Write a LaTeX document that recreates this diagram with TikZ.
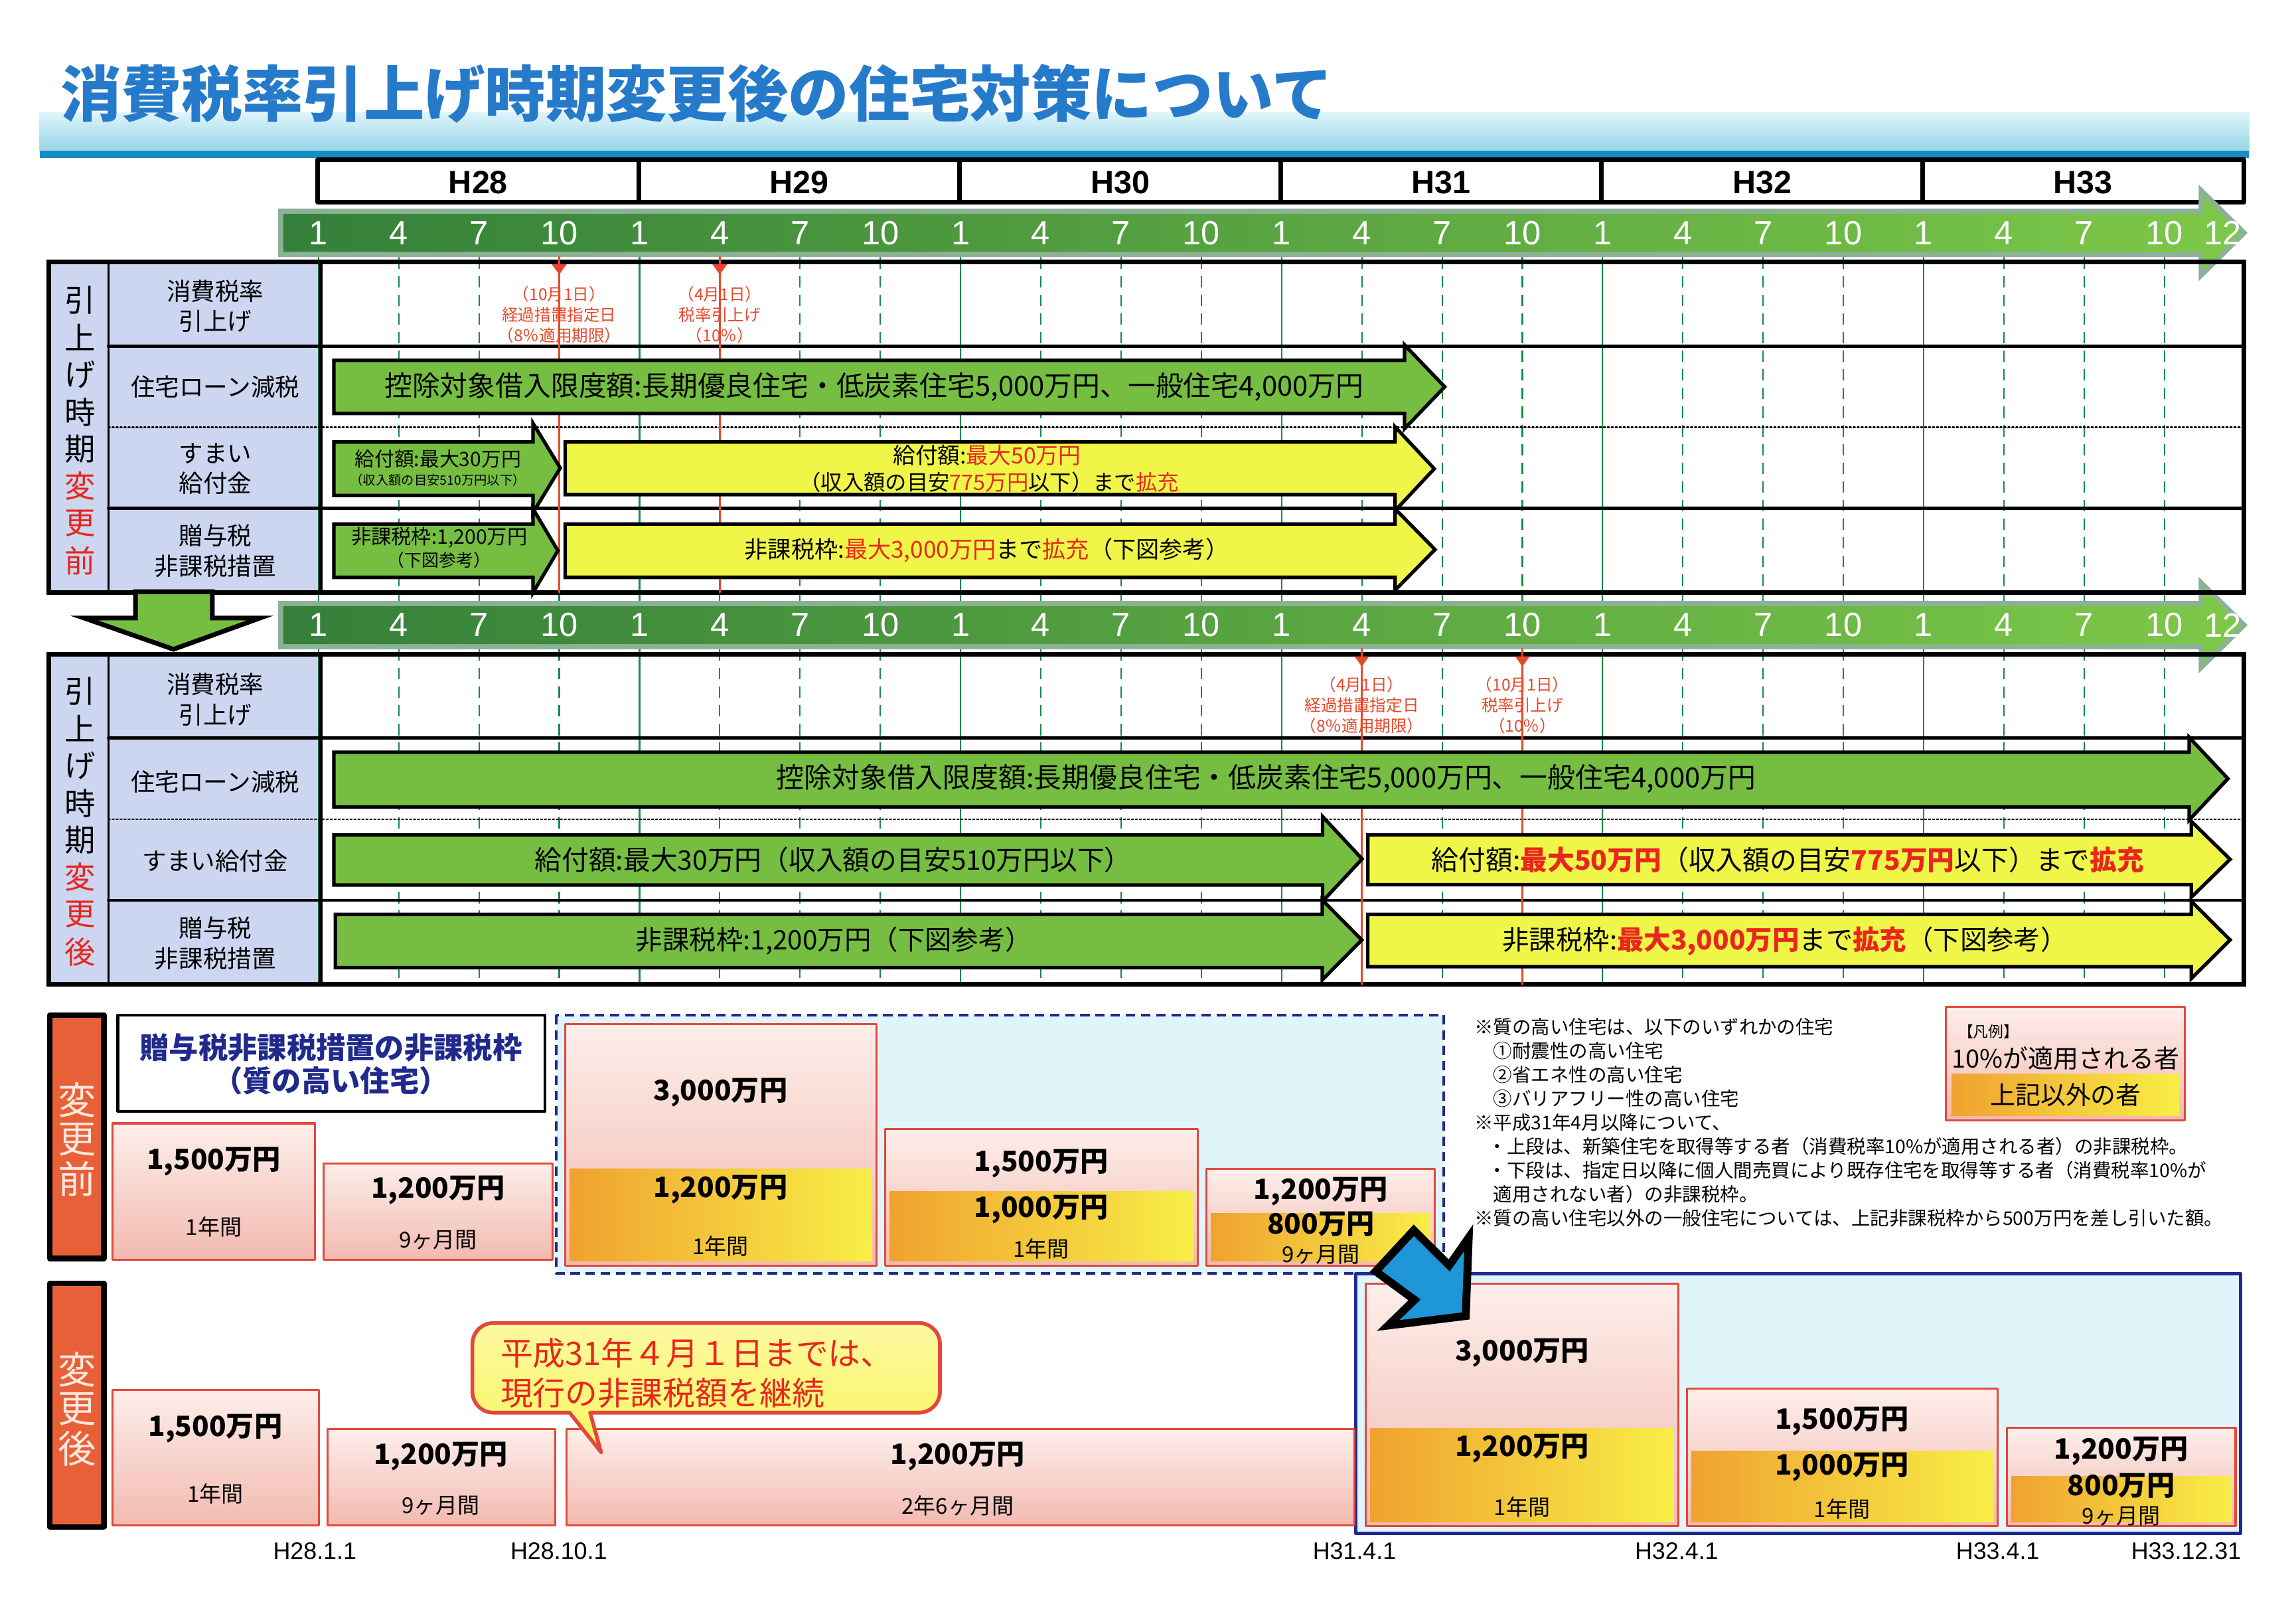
\documentclass[tikz,border=0pt]{standalone}
\usepackage{fontspec}
\setmainfont{Noto Sans CJK JP}
\newfontfamily\lat{Liberation Sans}
\definecolor{ttlblue}{RGB}{38,122,202}
\definecolor{bandtop}{RGB}{222,244,250}
\definecolor{bandbot}{RGB}{150,214,232}
\definecolor{bandline}{RGB}{25,140,195}
\definecolor{barframe}{RGB}{140,178,150}
\definecolor{bardark}{RGB}{52,128,58}
\definecolor{barlight}{RGB}{125,200,72}
\definecolor{gridgreen}{RGB}{20,140,70}
\definecolor{labcell}{RGB}{204,214,240}
\definecolor{arrgreen}{RGB}{118,190,66}
\definecolor{arryellow}{RGB}{240,246,72}
\definecolor{annred}{RGB}{232,72,42}
\definecolor{txtred}{RGB}{232,38,30}
\definecolor{pinktop}{RGB}{253,238,234}
\definecolor{pinkbot}{RGB}{242,186,176}
\definecolor{boxred}{RGB}{226,72,60}
\definecolor{orgL}{RGB}{240,162,48}
\definecolor{orgR}{RGB}{248,238,70}
\definecolor{cyanbg}{RGB}{224,245,250}
\definecolor{navy}{RGB}{32,42,140}
\definecolor{tagred}{RGB}{232,96,56}
\definecolor{tagtxt}{RGB}{255,232,222}
\definecolor{bubfill}{RGB}{250,245,96}
\definecolor{bluearr}{RGB}{30,150,215}
\tikzset{
  grnarr/.style={draw=black,line width=1.5pt,fill=arrgreen,line join=miter},
  yelarr/.style={draw=black,line width=1.5pt,fill=arryellow,line join=miter},
  yearbox/.style={draw=black,line width=2pt,fill=white},
  rowlab/.style={align=center,font=\fontsize{10.4}{13}\selectfont,inner sep=0pt},
  vchar/.style={font=\fontsize{13.2}{14}\selectfont,inner sep=0pt},
  annot/.style={align=center,text=annred,font=\fontsize{7}{8.8}\selectfont,inner sep=0pt},
  monlab/.style={text=white,font=\lat\fontsize{14.4}{16}\selectfont,inner sep=0pt},
  pinkbox/.style={draw=boxred,line width=0.9pt,top color=pinktop,bottom color=pinkbot},
  orgbox/.style={left color=orgL,right color=orgR},
  amt/.style={font=\bfseries\fontsize{12}{14}\selectfont,inner sep=0pt},
  dur/.style={font=\fontsize{9.4}{11}\selectfont,inner sep=0pt},
  datelab/.style={font=\lat\fontsize{10.2}{12}\selectfont,inner sep=0pt},
  note/.style={anchor=west,font=\fontsize{8.1}{10}\selectfont,inner sep=0pt},
  tag/.style={draw=black,line width=2.4pt,fill=tagred},
  tagch/.style={text=tagtxt,font=\fontsize{16.3}{18}\selectfont,inner sep=0pt}
}
\newcommand\redtx[1]{\textcolor{txtred}{#1}}
\newcommand\redbf[1]{\textcolor{txtred}{\bfseries #1}}
% style, x start, head base, tip, body top, body bottom, head top, head bottom
\newcommand\bararrow[8]{\draw[#1] (#2,#5) -- (#3,#5) -- (#3,#7) -- (#4,{(#7+#8)/2}) -- (#3,#8) -- (#3,#6) -- (#2,#6) -- cycle;}
\begin{document}
\begin{tikzpicture}[x=0.2206mm,y=-0.2206mm,line join=round,line cap=round]
\useasboundingbox (0,0) rectangle (1568,1103);
\fill[white] (0,0) rectangle (1568,1103);
% title
\shade[top color=bandtop,bottom color=bandbot] (27,77) rectangle (1536,103);
\fill[bandline] (27,103) rectangle (1536,108);
\node[anchor=west,inner sep=0pt,text=ttlblue,font=\bfseries\fontsize{26}{30}\selectfont] (ttl) at (41,64) {消費税率引上げ時期変更後の住宅対策について};
% years
\foreach \k/\yr in {0/28,1/29,2/30,3/31,4/32,5/33}{
  \draw[yearbox] ({217+219.2*\k},109) rectangle ({217+219.2*(\k+1)},138);
  \node[font=\lat\bfseries\fontsize{13.8}{16}\selectfont,inner sep=0pt] (y\yr) at ({217+219.2*(\k+0.5)},124.5) {H\yr};
}
% table cells
\foreach \T in {179,446.6}{
  \fill[labcell] (33.5,\T) rectangle (219,{\T+225.4});
  \fill[white] (219,\T) rectangle (1532.5,{\T+225.4});
}
% month grid
\foreach \t in {0,3,...,69}{
  \pgfmathtruncatemacro\rem{mod(\t,12)}
  \ifnum\rem=0
    \draw[gridgreen,line width=0.6pt] ({217.5+18.27*\t},175.6) -- ({217.5+18.27*\t},672);
  \else
    \draw[gridgreen,line width=0.6pt,line cap=butt,dash pattern=on 4.9pt off 3.1pt] ({217.5+18.27*\t},175.6) -- ({217.5+18.27*\t},672);
  \fi
}
% month bars
\foreach \c in {159,426.8}{
  \fill[barframe] (190,{\c-16.5}) -- (1501.5,{\c-16.5}) -- (1501.5,{\c-33}) -- (1535,\c) -- (1501.5,{\c+33}) -- (1501.5,{\c+16.5}) -- (190,{\c+16.5}) -- cycle;
  \shade[left color=bardark,right color=barlight] (193.5,{\c-13}) -- (1505,{\c-13}) -- (1505,{\c-25}) -- (1530,\c) -- (1505,{\c+25}) -- (1505,{\c+13}) -- (193.5,{\c+13}) -- cycle;
}
\foreach \c/\b in {159/a,426.8/b}{
  \foreach \k in {0,...,5}{
    \foreach \m in {1,4,7,10}
      \node[monlab] (m\b\k\m) at ({217.5+18.27*(12*\k+\m-1)},\c) {\m};
  }
  \node[monlab] (m\b12) at (1518,\c) {12};
}
% table lines
\foreach \T in {179,446.6}{
  \draw[line width=1.3pt] (74,{\T+57.3}) -- (1532.5,{\T+57.3});
  \draw[line width=0.7pt,densely dotted] (74,{\T+112.7}) -- (1532.5,{\T+112.7});
  \draw[line width=1.3pt] (74,{\T+168}) -- (1532.5,{\T+168});
  \draw[line width=0.9pt] (74,\T) -- (74,{\T+225.4});
  \draw[line width=1.8pt] (219,\T) -- (219,{\T+225.4});
  \draw[line width=2pt,line join=miter] (33.5,\T) rectangle (1532.5,{\T+225.4});
}
% left column
\foreach \T/\s/\w in {205/前/a,472/後/b}{
  \foreach \ch [count=\i from 0] in {引,上,げ,時,期}
    \node[vchar] (v\w\i) at (54.5,{\T+25.4*\i}) {\ch};
  \node[vchar,text=txtred] (v\w5) at (54.5,{\T+25.4*5}) {変};
  \node[vchar,text=txtred] (v\w6) at (54.5,{\T+25.4*6}) {更};
  \node[vchar,text=txtred] (v\w7) at (54.5,{\T+25.4*7}) {\s};
}
% row labels
\node[rowlab] (ta1) at (147,209) {消費税率\\引上げ};
\node[rowlab] (ta2) at (147,264) {住宅ローン減税};
\node[rowlab] (ta3) at (147,320) {すまい\\給付金};
\node[rowlab] (ta4) at (147,376) {贈与税\\非課税措置};
\node[rowlab] (tb1) at (147,477.5) {消費税率\\引上げ};
\node[rowlab] (tb2) at (147,534) {住宅ローン減税};
\node[rowlab] (tb3) at (147,587.6) {すまい給付金};
\node[rowlab] (tb4) at (147,644) {贈与税\\非課税措置};
% red date lines
\foreach \x/\T in {381.9/179,491.6/179,930/446.6,1039.7/446.6}{
  \draw[annred,line width=1pt] (\x,{\T-3.5}) -- (\x,{\T+225.4});
  \fill[annred] ({\x-5},{\T+1.5}) -- ({\x+5},{\T+1.5}) -- (\x,{\T+8.5}) -- cycle;
}
\node[annot] (ra1) at (381.9,215) {（10月1日）\\経過措置指定日\\（8％適用期限）};
\node[annot] (ra2) at (491.6,215) {（4月1日）\\税率引上げ\\（10％）};
\node[annot] (rb1) at (930,481.5) {（4月1日）\\経過措置指定日\\（8％適用期限）};
\node[annot] (rb2) at (1039.7,481.5) {（10月1日）\\税率引上げ\\（10％）};
% arrows, before
\bararrow{grnarr}{228}{959.2}{986.6}{246}{282.3}{235.5}{292.7}
\bararrow{grnarr}{228}{364}{382.6}{301.8}{338.3}{289}{350}
\bararrow{yelarr}{386}{952.7}{979.5}{301.8}{337.7}{291.4}{348.7}
\bararrow{grnarr}{228}{364}{381}{357.8}{394.2}{347.4}{404.6}
\bararrow{yelarr}{386}{952.7}{980}{357.8}{394.2}{347.4}{403}
\node[font=\fontsize{11.9}{14}\selectfont,inner sep=0pt] (ga2) at (597,264) {控除対象借入限度額:長期優良住宅・低炭素住宅5,000万円、一般住宅4,000万円};
\node[font=\fontsize{8.5}{10}\selectfont,inner sep=0pt] (ga3) at (299,313.5) {給付額:最大30万円};
\node[font=\fontsize{5.5}{7}\selectfont,inner sep=0pt] (ga3s) at (299,328) {（収入額の目安510万円以下）};
\node[font=\fontsize{9.6}{11}\selectfont,inner sep=0pt] (ya3) at (674,311) {給付額:\redtx{最大50万円}};
\node[font=\fontsize{9.2}{11}\selectfont,inner sep=0pt] (ya3s) at (675.5,329) {（収入額の目安\redtx{775万円}以下）まで\redtx{拡充}};
\node[font=\fontsize{8.6}{10}\selectfont,inner sep=0pt] (ga4) at (300,366.9) {非課税枠:1,200万円};
\node[font=\fontsize{7.4}{9}\selectfont,inner sep=0pt] (ga4s) at (300,382.5) {（下図参考）};
\node[font=\fontsize{10}{12}\selectfont,inner sep=0pt] (ya4) at (674,375.5) {非課税枠:\redtx{最大3,000万円}まで\redtx{拡充}（下図参考）};
% arrows, after
\bararrow{grnarr}{228}{1495}{1521.5}{513.6}{551}{503.4}{559.9}
\bararrow{grnarr}{228}{903.2}{930.2}{570}{604.3}{557.5}{615.4}
\bararrow{yelarr}{934.2}{1496.5}{1523}{570}{604}{560.8}{612.6}
\bararrow{grnarr}{229}{903}{930}{624.3}{660.7}{614.5}{669}
\bararrow{yelarr}{934}{1496.5}{1523}{624.3}{660}{615.4}{668.1}
\node[font=\fontsize{11.9}{14}\selectfont,inner sep=0pt] (gb2) at (864.7,531.5) {控除対象借入限度額:長期優良住宅・低炭素住宅5,000万円、一般住宅4,000万円};
\node[font=\fontsize{11.6}{14}\selectfont,inner sep=0pt] (gb3) at (569,587) {給付額:最大30万円（収入額の目安510万円以下）};
\node[font=\fontsize{11.6}{14}\selectfont,inner sep=0pt] (yb3) at (1221,587) {給付額:\redbf{最大50万円}（収入額の目安\redbf{775万円}以下）まで\redbf{拡充}};
\node[font=\fontsize{11.5}{14}\selectfont,inner sep=0pt] (gb4) at (569.6,642.5) {非課税枠:1,200万円（下図参考）};
\node[font=\fontsize{11.5}{14}\selectfont,inner sep=0pt] (yb4) at (1219,642.5) {非課税枠:\redbf{最大3,000万円}まで\redbf{拡充}（下図参考）};
% down arrow
\draw[line width=2pt,fill=arrgreen,line join=miter] (92.5,404) -- (145,404) -- (145,422) -- (177.5,422) -- (118.5,443.3) -- (57.5,422) -- (92.5,422) -- cycle;
% lower part
\draw[tag] (34,693) rectangle (71,859.3);
\draw[tag] (34,876.3) rectangle (71,1042.7);
\foreach \ch [count=\i from 0] in {変,更,前}
  \node[tagch] (ka\i) at (52.5,{751+27*\i}) {\ch};
\foreach \ch [count=\i from 0] in {変,更,後}
  \node[tagch] (kb\i) at (52.5,{935+27*\i}) {\ch};
\draw[line width=1.2pt,fill=white] (80.5,693) rectangle (372,758.8);
\node[font=\bfseries\fontsize{12.6}{14.4}\selectfont,text=navy,align=center,inner sep=0pt] (zttl) at (226,726.5) {贈与税非課税措置の非課税枠\\（質の高い住宅）};
\draw[navy,line width=1.1pt,line cap=butt,dash pattern=on 4pt off 2.5pt,fill=cyanbg] (379.8,693) rectangle (986,869.6);
\draw[navy,line width=1.5pt,fill=cyanbg] (926,869.6) rectangle (1530,1047);
% before amounts
\draw[pinkbox] (77,767) rectangle (215,860);
\node[amt] (b1v) at (146,793.3) {1,500万円};
\node[dur] (b1d) at (146,837.8) {1年間};
\draw[pinkbox] (221,794.6) rectangle (377.4,860);
\node[amt] (b2v) at (299.2,812.7) {1,200万円};
\node[dur] (b2d) at (299.2,846.7) {9ヶ月間};
\draw[pinkbox] (386,699.4) rectangle (598.5,864.2);
\fill[orgbox] (389,797.9) rectangle (595.5,861.2);
\node[amt] (b3v) at (492,746) {3,000万円};
\node[amt] (b3w) at (492,812) {1,200万円};
\node[dur] (b3d) at (492,851) {1年間};
\draw[pinkbox] (604.6,771) rectangle (817.9,864.2);
\fill[orgbox] (607.6,813.5) rectangle (814.9,861.2);
\node[amt] (b4v) at (711,794.6) {1,500万円};
\node[amt] (b4w) at (711,825.6) {1,000万円};
\node[dur] (b4d) at (711,852.6) {1年間};
\draw[pinkbox] (824,797.9) rectangle (979.8,864.2);
\fill[orgbox] (827,828.3) rectangle (976.8,861.2);
\node[amt] (b5v) at (902,813.5) {1,200万円};
\node[amt] (b5w) at (902,836) {800万円};
\node[dur] (b5d) at (902,856.6) {9ヶ月間};
% after amounts
\draw[pinkbox] (77,948.9) rectangle (217.8,1041.4);
\node[amt] (a1v) at (147,975.3) {1,500万円};
\node[dur] (a1d) at (147,1019.8) {1年間};
\draw[pinkbox] (223.7,975.9) rectangle (379.2,1041.4);
\node[amt] (a2v) at (301,994.2) {1,200万円};
\node[dur] (a2d) at (301,1027.9) {9ヶ月間};
\draw[pinkbox] (386.9,975.9) rectangle (925.1,1041.4);
\node[amt] (a3v) at (654,994.2) {1,200万円};
\node[dur] (a3d) at (654,1027.9) {2年6ヶ月間};
\draw[pinkbox] (932.8,876.5) rectangle (1146.2,1042.1);
\fill[orgbox] (935.8,975.3) rectangle (1143.2,1039.1);
\node[amt] (a4v) at (1039.5,923.4) {3,000万円};
\node[amt] (a4w) at (1039.5,988.9) {1,200万円};
\node[dur] (a4d) at (1039.5,1028.9) {1年間};
\draw[pinkbox] (1152.1,948.1) rectangle (1364.3,1042.1);
\fill[orgbox] (1155.1,990.5) rectangle (1361.3,1039.1);
\node[amt] (a5v) at (1258,970.5) {1,500万円};
\node[amt] (a5w) at (1258,1001.7) {1,000万円};
\node[dur] (a5d) at (1258,1030.5) {1年間};
\draw[pinkbox] (1370.6,975) rectangle (1526.7,1042.1);
\fill[orgbox] (1373.6,1008) rectangle (1523.7,1039.1);
\node[amt] (a6v) at (1448.6,990.5) {1,200万円};
\node[amt] (a6w) at (1448.6,1014.5) {800万円};
\node[dur] (a6d) at (1448.6,1035.3) {9ヶ月間};
% dates
\foreach \x/\d [count=\i] in {215/H28.1.1,381.6/H28.10.1,925/H31.4.1,1145/H32.4.1,1364.3/H33.4.1,1493/H33.12.31}
  \node[datelab] (d\i) at (\x,1058.9) {\d};
% speech bubble
\draw[draw=boxred,line width=1.6pt,top color=bubfill!60!white,bottom color=bubfill,rounded corners=9] (322.6,934) -- (322.6,903.3) -- (641.9,903.3) -- (641.9,964.5) [sharp corners] -- (403,964.5) -- (410.5,991.5) -- (389,964.5) [rounded corners=9] -- (322.6,964.5) -- cycle;
\node[anchor=west,text=txtred,font=\fontsize{13.9}{16}\selectfont,inner sep=0pt] (bub1) at (341.5,924) {平成31年４月１日までは、};
\node[anchor=west,text=txtred,font=\fontsize{13.9}{16}\selectfont,inner sep=0pt] (bub2) at (341.5,951) {現行の非課税額を継続};
% blue arrow
\draw[line width=3.4pt,fill=bluearr,line join=miter] (939.5,868) -- (965.5,840) -- (989.7,864) -- (1003,845) -- (1001,898.5) -- (948,905) -- (966,887.5) -- cycle;
% notes
\node[note] (n1) at (1006.7,701) {※質の高い住宅は、以下のいずれかの住宅};
\node[note] (n2) at (1019.6,717.3) {①耐震性の高い住宅};
\node[note] (n3) at (1019.6,733.6) {②省エネ性の高い住宅};
\node[note] (n4) at (1019.6,750) {③バリアフリー性の高い住宅};
\node[note] (n5) at (1006.7,766.3) {※平成31年4月以降について、};
\node[note] (n6) at (1015.9,782.6) {・上段は、新築住宅を取得等する者（消費税率10\%が適用される者）の非課税枠。};
\node[note] (n7) at (1015.9,799) {・下段は、指定日以降に個人間売買により既存住宅を取得等する者（消費税率10\%が};
\node[note] (n8) at (1019.6,815.3) {適用されない者）の非課税枠。};
\node[note] (n9) at (1006.7,831.6) {※質の高い住宅以外の一般住宅については、上記非課税枠から500万円を差し引いた額。};
% legend
\draw[pinkbox] (1329,687.3) rectangle (1492,765);
\fill[orgbox] (1332.9,733.2) rectangle (1488.2,762);
\node[font=\fontsize{6.5}{8}\selectfont,inner sep=0pt] (lg0) at (1358,704.3) {【凡例】};
\node[font=\fontsize{10.8}{12}\selectfont,inner sep=0pt] (lg1) at (1410.7,722.6) {10\%が適用される者};
\node[font=\fontsize{10.8}{12}\selectfont,inner sep=0pt] (lg2) at (1410.7,747.6) {上記以外の者};
\end{tikzpicture}
\end{document}
